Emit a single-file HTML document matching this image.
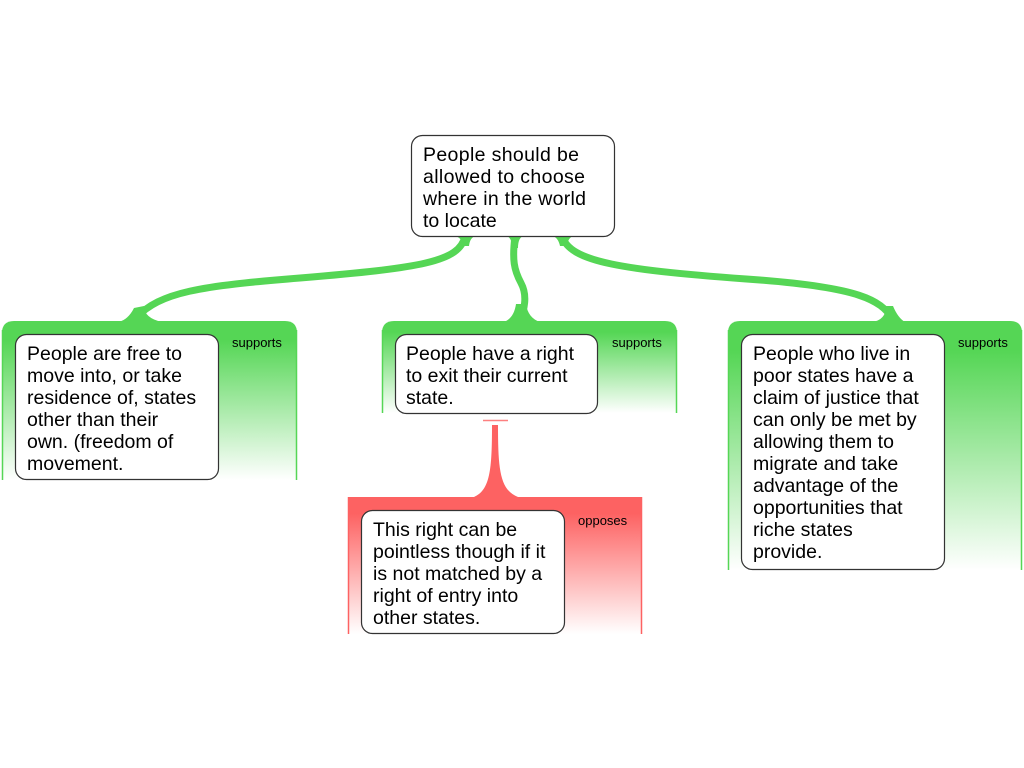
<!DOCTYPE html>
<html><head><meta charset="utf-8"><style>
body{margin:0;background:#fff;width:1024px;height:768px;overflow:hidden}
svg{display:block}
.t{font-family:"Liberation Sans",sans-serif;font-size:19.5px;fill:#000}
.s{font-family:"Liberation Sans",sans-serif;font-size:13px;fill:#000}
</style></head><body>
<svg width="1024" height="768" viewBox="0 0 1024 768">
<defs>
<linearGradient id="g" x1="0" y1="0" x2="0" y2="1">
<stop offset="0" stop-color="#55d655"/><stop offset="0.12" stop-color="#55d655"/><stop offset="1" stop-color="#fff"/></linearGradient>
<linearGradient id="r" x1="0" y1="0" x2="0" y2="1">
<stop offset="0" stop-color="#fd6262"/><stop offset="0.12" stop-color="#fd6262"/><stop offset="1" stop-color="#fff"/></linearGradient>
</defs>
<g fill="none" stroke="#55d655" stroke-width="7" stroke-linecap="butt">
<path d="M465,236 C460,262 420,268 300,278 C200,286 160,292 136,318"/>
<path d="M515,236 C512,260 514,270 521,283 C528,296 524,310 520,321"/>
<path d="M562,236 C570,262 620,270 760,280 C860,288 880,300 892,318"/>
</g>
<g fill="#55d655">
<path d="M454,236 Q462,237 463,246 L469,246 Q470,237 476,236 Z"/>
<path d="M506,236 Q512,237 512,248 L518,248 Q518,237 524,236 Z"/>
<path d="M552,236 Q558,237 560,246 L567,246 Q568,237 574,236 Z"/>
<path d="M118,322 Q128,320 134,308 L144,306 Q144,318 162,322 Z"/>
<path d="M504,322 Q514,318 516,304 L526,304 Q528,318 540,322 Z"/>
<path d="M872,322 Q886,320 886,306 L893,306 Q898,318 905,322 Z"/>
</g>
<path d="M2,480 V333 Q2,321 14,321 H285 Q297,321 297,333 V480 Z" fill="url(#g)"/>
<path d="M382,413 V333 Q382,321 394,321 H665 Q677,321 677,333 V413 Z" fill="url(#g)"/>
<path d="M728,570 V333 Q728,321 740,321 H1010 Q1022,321 1022,333 V570 Z" fill="url(#g)"/>
<g stroke="#55d655" stroke-width="1.5">
<line x1="2.5" y1="330" x2="2.5" y2="480"/><line x1="296.5" y1="330" x2="296.5" y2="480"/>
<line x1="382.5" y1="330" x2="382.5" y2="413"/><line x1="676.5" y1="330" x2="676.5" y2="413"/>
<line x1="728.5" y1="330" x2="728.5" y2="570"/><line x1="1021.5" y1="330" x2="1021.5" y2="570"/>
</g>
<line x1="483" y1="420.5" x2="508" y2="420.5" stroke="#fd8080" stroke-width="1.5"/>
<path d="M492,425 H498 C498,470 500,490 518,497 H474 C490,490 492,470 492,425 Z" fill="#fd6262"/>
<rect x="348" y="497" width="294" height="137" fill="url(#r)"/>
<g stroke="#fd6262" stroke-width="1.5"><line x1="348.5" y1="497" x2="348.5" y2="634"/><line x1="641.5" y1="497" x2="641.5" y2="634"/></g>
<g fill="#fff" stroke="#333" stroke-width="1.2">
<rect x="411.5" y="135.5" width="203" height="101" rx="11"/>
<rect x="15.5" y="334.5" width="203" height="145" rx="11"/>
<rect x="395.5" y="334.5" width="202" height="79" rx="11"/>
<rect x="741.5" y="334.5" width="203" height="235" rx="11"/>
<rect x="361.5" y="510.5" width="203" height="123" rx="11"/>
</g>
<g class="t">
<text x="423" y="161" textLength="156">People should be</text><text x="423" y="183" textLength="162">allowed to choose</text><text x="423" y="205" textLength="163">where in the world</text><text x="423" y="227">to locate</text>
<text x="27" y="360">People are free to</text><text x="27" y="382">move into, or take</text><text x="27" y="404">residence of, states</text><text x="27" y="426">other than their</text><text x="27" y="448">own. (freedom of</text><text x="27" y="470">movement.</text>
<text x="406" y="360">People have a right</text><text x="406" y="382">to exit their current</text><text x="406" y="404">state.</text>
<text x="753" y="360">People who live in</text><text x="753" y="382">poor states have a</text><text x="753" y="404">claim of justice that</text><text x="753" y="426">can only be met by</text><text x="753" y="448">allowing them to</text><text x="753" y="470">migrate and take</text><text x="753" y="492">advantage of the</text><text x="753" y="514">opportunities that</text><text x="753" y="536">riche states</text><text x="753" y="558">provide.</text>
<text x="373" y="536">This right can be</text><text x="373" y="558">pointless though if it</text><text x="373" y="580">is not matched by a</text><text x="373" y="602">right of entry into</text><text x="373" y="624">other states.</text>
</g>
<g class="s">
<text x="232" y="347">supports</text><text x="612" y="347">supports</text><text x="958" y="347">supports</text><text x="578" y="525">opposes</text>
</g>
</svg>
</body></html>
